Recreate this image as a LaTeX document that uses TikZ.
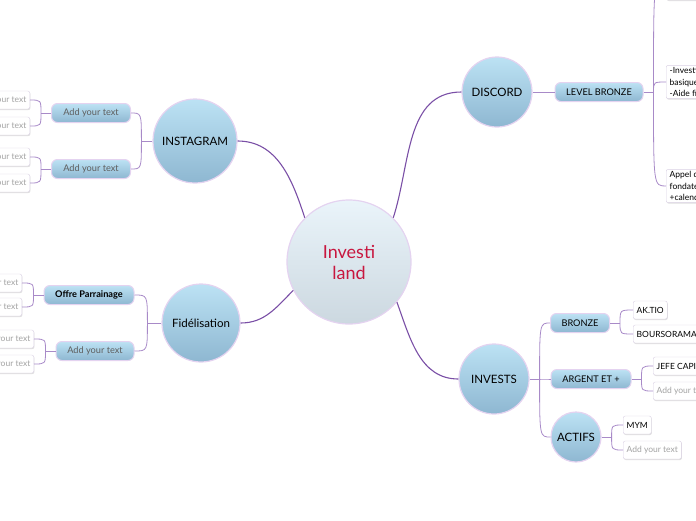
\documentclass[tikz,border=0pt]{standalone}
\usepackage{fontspec}
\setmainfont{Lato}
\usepackage{xcolor}
\definecolor{TopicTop}{HTML}{BCE2F4}
\definecolor{TopicBottom}{HTML}{8EB7D1}
\definecolor{CentreTop}{HTML}{EAF4FA}
\definecolor{CentreBottom}{HTML}{CCD8E0}
\definecolor{RimPurple}{HTML}{E4D3F0}
\definecolor{LinkDark}{HTML}{7A4FA6}
\definecolor{LinkLight}{HTML}{A88AC8}
\definecolor{LeafRim}{HTML}{D9D0E3}
\definecolor{HintGrey}{HTML}{A3A3A3}
\definecolor{SubGrey}{HTML}{5E5E5E}
\definecolor{CentreRed}{HTML}{C8173F}
\usetikzlibrary{shadows}

\begin{document}
\begin{tikzpicture}[x=1pt, y=-1pt,
  central/.style={circle, draw=RimPurple, line width=1.2pt, top color=CentreTop, bottom color=CentreBottom, minimum size=124pt, inner sep=0pt, align=center, text=CentreRed, font=\fontsize{18}{21}\selectfont},
  topic/.style={circle, draw=RimPurple, line width=1.2pt, top color=TopicTop, bottom color=TopicBottom, inner sep=0pt, font=\fontsize{11.5}{13}\selectfont},
  subtopic/.style={rectangle, rounded corners=6pt, draw=RimPurple, line width=1pt, top color=TopicTop, bottom color=TopicBottom, minimum height=19pt, inner sep=0pt, font=\fontsize{9.2}{10}\selectfont},
  leaf/.style={rectangle, rounded corners=2pt, draw=LeafRim, fill=white, minimum height=18pt, inner xsep=3.5pt, inner ysep=2pt, align=left, font=\fontsize{8.5}{11.5}\selectfont, drop shadow={shadow xshift=0.6pt, shadow yshift=-1pt, opacity=0.25}},
  hint/.style={text=HintGrey},
  mainlink/.style={draw=LinkDark, line width=1.1pt},
  sublink/.style={draw=LinkLight, line width=0.8pt},
  branch/.style={to path={.. controls (\tikztostart |- \tikztotarget) .. (\tikztotarget)}}]
  \useasboundingbox (0,0) rectangle (696,520);
  \clip (0,0) rectangle (696,520);

  % centre and main topics
  \node[central] (investi) at (349,262) {Investi\\land};
  \node[topic, minimum size=70pt] (discord) at (497,92) {DISCORD};
  \node[topic, minimum size=84pt] (insta) at (195,141) {INSTAGRAM};
  \node[topic, minimum size=78pt] (fidel) at (201,323) {Fidélisation};
  \node[topic, minimum size=70pt] (invests) at (494,379) {INVESTS};

  % subtopics
  \node[subtopic, minimum width=88pt] (lvlbronze) at (599,92) {LEVEL BRONZE};
  \node[subtopic, minimum width=79pt, text=SubGrey] (instasub1) at (91,113) {Add your text};
  \node[subtopic, minimum width=79pt, text=SubGrey] (instasub2) at (91,169) {Add your text};
  \node[subtopic, minimum width=90pt, font=\fontsize{9.2}{10}\selectfont\bfseries] (parrain) at (89,295) {Offre Parrainage};
  \node[subtopic, minimum width=78pt, text=SubGrey] (fidelsub) at (95,351) {Add your text};
  \node[subtopic, minimum width=59pt] (bronze) at (580,323) {BRONZE};
  \node[subtopic, minimum width=80pt] (argent) at (591,379) {ARGENT ET +};
  \node[topic, minimum size=50pt] (actifs) at (576,437) {ACTIFS};

  % leaves
  \node[leaf, hint, anchor=east] (insta1a) at (30,100) {Add your text};
  \node[leaf, hint, anchor=east] (insta1b) at (30,126) {Add your text};
  \node[leaf, hint, anchor=east] (insta2a) at (30,157) {Add your text};
  \node[leaf, hint, anchor=east] (insta2b) at (30,183) {Add your text};
  \node[leaf, hint, anchor=east] (parrain1) at (22,283) {Add your text};
  \node[leaf, hint, anchor=east] (parrain2) at (22,307) {Add your text};
  \node[leaf, hint, anchor=east] (fidel1) at (34,339) {Add your text};
  \node[leaf, hint, anchor=east] (fidel2) at (34,364) {Add your text};
  \node[leaf, anchor=west, minimum width=70pt, minimum height=42pt] (lvl0) at (666,-21) {};
  \node[leaf, anchor=west] (lvl1) at (666,82) {-Investissements\\basiques\\-Aide financière};
  \node[leaf, anchor=west] (lvl2) at (666,186) {Appel du\\fondateur\\+calendrier};
  \node[leaf, anchor=west] (aktio) at (633,310) {AK.TIO};
  \node[leaf, anchor=west] (bourso) at (633,334) {BOURSORAMA};
  \node[leaf, anchor=west] (jefe) at (653,366) {JEFE CAPITAL};
  \node[leaf, hint, anchor=west] (argent2) at (653,391) {Add your text};
  \node[leaf, anchor=west] (mym) at (623,425) {MYM};
  \node[leaf, hint, anchor=west] (actifs2) at (623,450) {Add your text};

  % main links
  \draw[mainlink] (investi.45) to[out=72, in=180] (discord.west);
  \draw[mainlink] (investi.135) to[out=108, in=0] (insta.east);
  \draw[mainlink] (investi.207) to[out=225, in=0] (fidel.east);
  \draw[mainlink] (investi.-40) to[out=-70, in=180] (invests.west);

  % sub links
  \draw[sublink] (discord.east) -- (lvlbronze.west);
  \draw[sublink] (lvlbronze.east) -- ++(10,0) coordinate (lvlfork);
  \draw[sublink] (lvlfork) to[branch] (lvl0.west);
  \draw[sublink] (lvlfork) to[branch] (lvl1.west);
  \draw[sublink] (lvlfork) to[branch] (lvl2.west);

  \draw[sublink] (insta.west) -- ++(-11,0) coordinate (instafork);
  \draw[sublink] (instafork) to[branch] (instasub1.east);
  \draw[sublink] (instafork) to[branch] (instasub2.east);
  \draw[sublink] (instasub1.west) -- ++(-10,0) coordinate (insta1fork);
  \draw[sublink] (insta1fork) to[branch] (insta1a.east);
  \draw[sublink] (insta1fork) to[branch] (insta1b.east);
  \draw[sublink] (instasub2.west) -- ++(-10,0) coordinate (insta2fork);
  \draw[sublink] (insta2fork) to[branch] (insta2a.east);
  \draw[sublink] (insta2fork) to[branch] (insta2b.east);

  \draw[sublink] (fidel.west) -- ++(-14,0) coordinate (fidelfork);
  \draw[sublink] (fidelfork) to[branch] (parrain.east);
  \draw[sublink] (fidelfork) to[branch] (fidelsub.east);
  \draw[sublink] (parrain.west) -- ++(-10,0) coordinate (parrainfork);
  \draw[sublink] (parrainfork) to[branch] (parrain1.east);
  \draw[sublink] (parrainfork) to[branch] (parrain2.east);
  \draw[sublink] (fidelsub.west) -- ++(-10,0) coordinate (fidelsubfork);
  \draw[sublink] (fidelsubfork) to[branch] (fidel1.east);
  \draw[sublink] (fidelsubfork) to[branch] (fidel2.east);

  \draw[sublink] (invests.east) -- ++(10,0) coordinate (investfork);
  \draw[sublink] (investfork) to[branch] (bronze.west);
  \draw[sublink] (investfork) to[branch] (argent.west);
  \draw[sublink] (investfork) to[branch] (actifs.west);
  \draw[sublink] (bronze.east) -- ++(10,0) coordinate (bronzefork);
  \draw[sublink] (bronzefork) to[branch] (aktio.west);
  \draw[sublink] (bronzefork) to[branch] (bourso.west);
  \draw[sublink] (argent.east) -- ++(10,0) coordinate (argentfork);
  \draw[sublink] (argentfork) to[branch] (jefe.west);
  \draw[sublink] (argentfork) to[branch] (argent2.west);
  \draw[sublink] (actifs.east) -- ++(10,0) coordinate (actifsfork);
  \draw[sublink] (actifsfork) to[branch] (mym.west);
  \draw[sublink] (actifsfork) to[branch] (actifs2.west);
\end{tikzpicture}
\end{document}
